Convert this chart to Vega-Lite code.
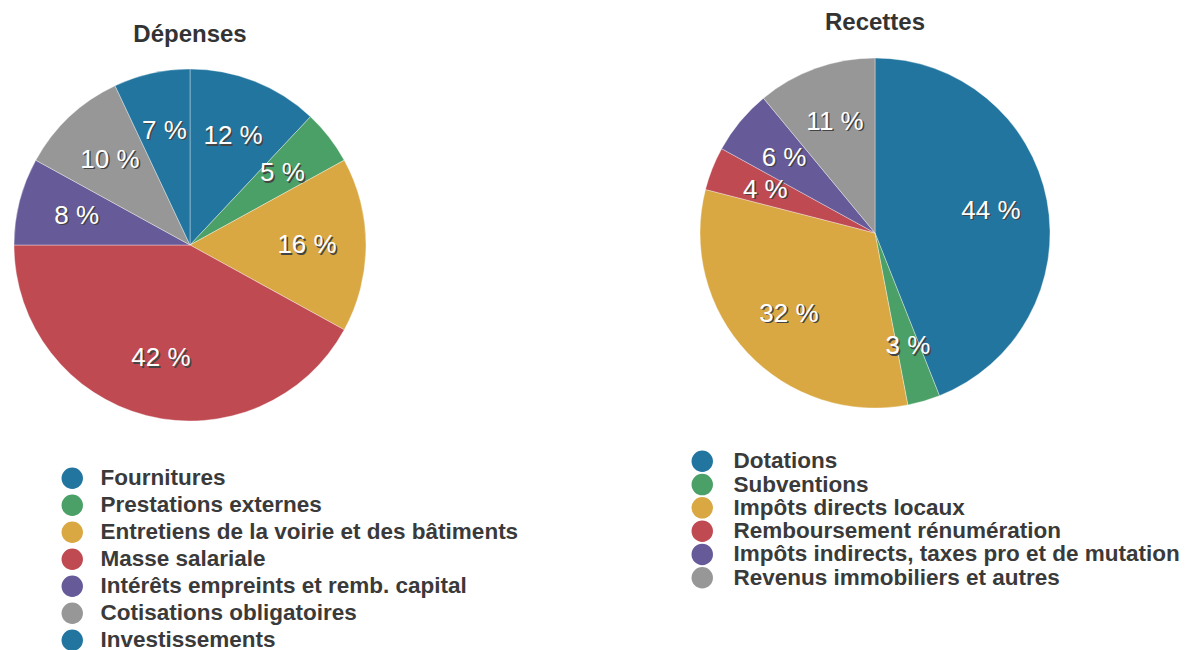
{
  "$schema": "https://vega.github.io/schema/vega-lite/v6.json",
  "background": "#ffffff",
  "padding": {"left": 0, "top": 10, "right": 0, "bottom": 0},
  "spacing": 172,
  "config": {"view": {"stroke": null}, "font": "Liberation Sans"},
  "resolve": {"scale": {"color": "independent"}, "legend": {"color": "independent"}},
  "hconcat": [
    {
      "width": 380,
      "height": 372,
      "title": {"text": "Dépenses", "fontSize": 24, "font": "Liberation Sans", "fontWeight": "bold", "color": "#333333", "anchor": "middle", "baseline": "alphabetic", "offset": -7},
      "data": {"values": [
        {"i": 1, "poste": "Fournitures", "pct": 12, "label": "12 %"},
        {"i": 2, "poste": "Prestations externes", "pct": 5, "label": "5 %"},
        {"i": 3, "poste": "Entretiens de la voirie et des bâtiments", "pct": 16, "label": "16 %"},
        {"i": 4, "poste": "Masse salariale", "pct": 42, "label": "42 %"},
        {"i": 5, "poste": "Intérêts empreints et remb. capital", "pct": 8, "label": "8 %"},
        {"i": 6, "poste": "Cotisations obligatoires", "pct": 10, "label": "10 %"},
        {"i": 7, "poste": "Investissements", "pct": 7, "label": "7 %"}
      ]},
      "encoding": {
        "theta": {"field": "pct", "type": "quantitative", "stack": true},
        "order": {"field": "i", "type": "quantitative"}
      },
      "layer": [
        {
          "mark": {"type": "arc", "outerRadius": 176, "stroke": "#ffffff", "strokeWidth": 0.6, "strokeOpacity": 0.6},
          "encoding": {
            "color": {
              "field": "poste", "type": "nominal",
              "scale": {
                "domain": ["Fournitures", "Prestations externes", "Entretiens de la voirie et des bâtiments", "Masse salariale", "Intérêts empreints et remb. capital", "Cotisations obligatoires", "Investissements"],
                "range": ["#22759f", "#4aa066", "#d9a843", "#bf4a52", "#665b98", "#979797", "#22759f"]
              },
              "legend": {"orient": "none", "legendX": 61, "legendY": 408, "title": null, "symbolType": "circle", "symbolSize": 460, "symbolStrokeWidth": 0, "symbolOpacity": 1, "labelFontSize": 22.5, "labelFont": "Liberation Sans", "labelFontWeight": "bold", "labelColor": "#3a3a3a", "labelLimit": 600, "labelOffset": 17, "rowPadding": 4, "padding": 0}
            }
          }
        },
        {"mark": {"type": "text", "radius": 117, "dx": 1.5, "dy": 1.5, "fontSize": 26, "font": "Liberation Sans", "fill": "#444444"}, "encoding": {"text": {"field": "label"}}},
        {"mark": {"type": "text", "radius": 117, "fontSize": 26, "font": "Liberation Sans", "fill": "#ffffff"}, "encoding": {"text": {"field": "label"}}}
      ]
    },
    {
      "width": 350,
      "height": 348,
      "title": {"text": "Recettes", "fontSize": 24, "font": "Liberation Sans", "fontWeight": "bold", "color": "#333333", "anchor": "middle", "baseline": "alphabetic", "offset": 3},
      "data": {"values": [
        {"i": 1, "poste": "Dotations", "pct": 44, "label": "44 %"},
        {"i": 2, "poste": "Subventions", "pct": 3, "label": "3 %"},
        {"i": 3, "poste": "Impôts directs locaux", "pct": 32, "label": "32 %"},
        {"i": 4, "poste": "Remboursement rénumération", "pct": 4, "label": "4 %"},
        {"i": 5, "poste": "Impôts indirects, taxes pro et de mutation", "pct": 6, "label": "6 %"},
        {"i": 6, "poste": "Revenus immobiliers et autres", "pct": 11, "label": "11 %"}
      ]},
      "encoding": {
        "theta": {"field": "pct", "type": "quantitative", "stack": true},
        "order": {"field": "i", "type": "quantitative"}
      },
      "layer": [
        {
          "mark": {"type": "arc", "outerRadius": 175, "stroke": "#ffffff", "strokeWidth": 0.6, "strokeOpacity": 0.6},
          "encoding": {
            "color": {
              "field": "poste", "type": "nominal",
              "scale": {
                "domain": ["Dotations", "Subventions", "Impôts directs locaux", "Remboursement rénumération", "Impôts indirects, taxes pro et de mutation", "Revenus immobiliers et autres"],
                "range": ["#22759f", "#4aa066", "#d9a843", "#bf4a52", "#665b98", "#979797"]
              },
              "legend": {"orient": "none", "legendX": -9, "legendY": 391, "title": null, "symbolType": "circle", "symbolSize": 460, "symbolStrokeWidth": 0, "symbolOpacity": 1, "labelFontSize": 22.5, "labelFont": "Liberation Sans", "labelFontWeight": "bold", "labelColor": "#3a3a3a", "labelLimit": 600, "labelOffset": 20, "rowPadding": 0.3, "padding": 0}
            }
          }
        },
        {"mark": {"type": "text", "radius": 118, "dx": 1.5, "dy": 1.5, "fontSize": 26, "font": "Liberation Sans", "fill": "#444444"}, "encoding": {"text": {"field": "label"}}},
        {"mark": {"type": "text", "radius": 118, "fontSize": 26, "font": "Liberation Sans", "fill": "#ffffff"}, "encoding": {"text": {"field": "label"}}}
      ]
    }
  ]
}
